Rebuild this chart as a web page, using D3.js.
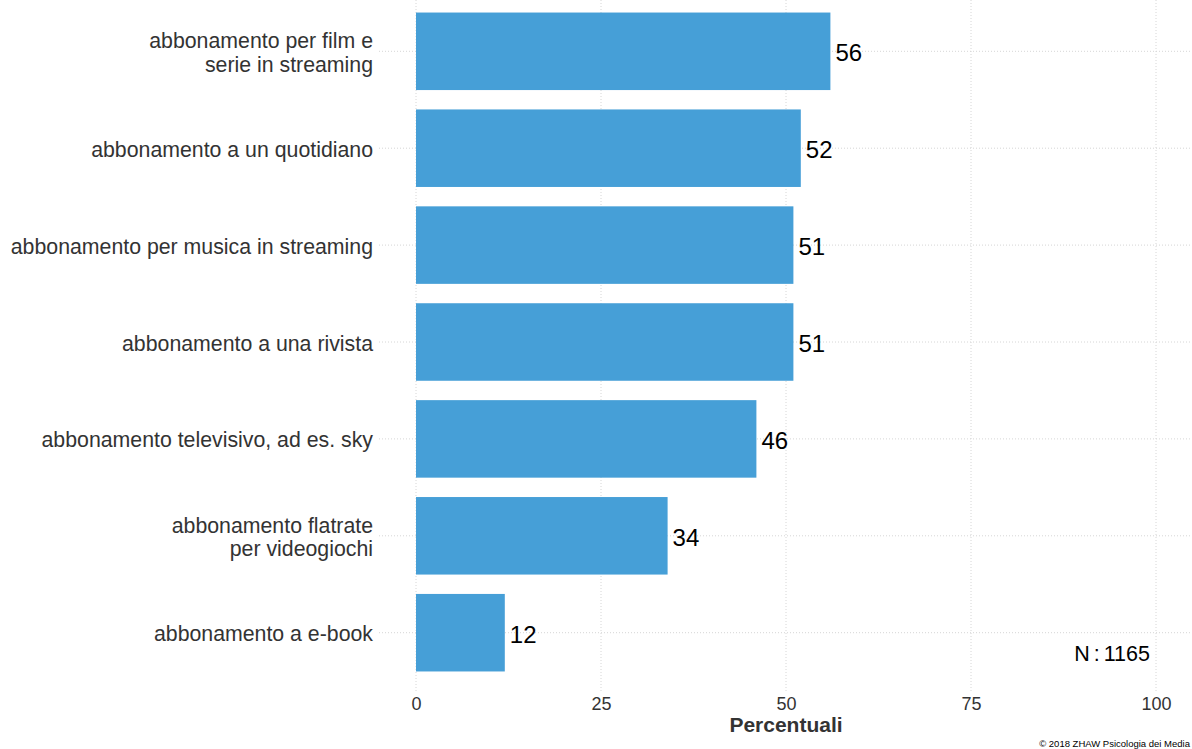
<!DOCTYPE html>
<html>
<head>
<meta charset="utf-8">
<script src="https://cdn.jsdelivr.net/npm/d3@7"></script>
<style>
  html, body { margin: 0; padding: 0; background: #fff; }
  svg { display: block; font-family: "Liberation Sans", Arial, sans-serif; }
</style>
</head>
<body>
<svg id="chart" width="1192" height="749"></svg>
<script>
// Subscriptions and the share of respondents (%) who use them
const categories = [
  "abbonamento per film e\nserie in streaming",
  "abbonamento a un quotidiano",
  "abbonamento per musica in streaming",
  "abbonamento a una rivista",
  "abbonamento televisivo, ad es. sky",
  "abbonamento flatrate\nper videogiochi",
  "abbonamento a e-book"
];
const values = [56, 52, 51, 51, 46, 34, 12];
const xTicks = [0, 25, 50, 75, 100];
const xTitle = "Percentuali";
const sampleNote = "N : 1165";
const credit = "© 2018 ZHAW Psicologia dei Media";

const svg = d3.select("#chart");

// Panel: x spans -5..105 (5% padding around 0..100)
const panel = { left: 379, right: 1193, top: 0, bottom: 691 };
const x = d3.scaleLinear().domain([-5, 105]).range([panel.left, panel.right]);

const y = d3.scaleBand()
  .domain(categories)
  .range([2.85, 681.15])
  .paddingInner(0.2)
  .paddingOuter(0.1);

const gridColor = "#d6d6d6";

// Vertical grid lines
svg.append("g").selectAll("line")
  .data(xTicks)
  .join("line")
  .attr("x1", d => x(d)).attr("x2", d => x(d))
  .attr("y1", panel.top).attr("y2", panel.bottom)
  .attr("stroke", gridColor)
  .attr("stroke-width", 1)
  .attr("stroke-dasharray", "1,2");

// Horizontal grid lines at each category
svg.append("g").selectAll("line")
  .data(categories)
  .join("line")
  .attr("x1", panel.left).attr("x2", panel.right)
  .attr("y1", d => y(d) + y.bandwidth() / 2)
  .attr("y2", d => y(d) + y.bandwidth() / 2)
  .attr("stroke", gridColor)
  .attr("stroke-width", 1)
  .attr("stroke-dasharray", "1,2");

// Bars
svg.append("g").selectAll("rect")
  .data(categories)
  .join("rect")
  .attr("x", x(0))
  .attr("y", d => y(d))
  .attr("width", (d, i) => x(values[i]) - x(0))
  .attr("height", y.bandwidth())
  .attr("fill", "#469fd7");

// Value labels
const valSize = 24;
svg.append("g").selectAll("text")
  .data(categories)
  .join("text")
  .attr("x", (d, i) => x(values[i]) + 5)
  .attr("y", d => y(d) + y.bandwidth() / 2 + 10)
  .attr("font-size", valSize)
  .attr("fill", "#000")
  .text((d, i) => values[i]);

// Category labels (right-aligned, multi-line)
const catSize = 21.3;
const lineH = 23.6;
const catG = svg.append("g");
categories.forEach(c => {
  const lines = c.split("\n");
  const cy = y(c) + y.bandwidth() / 2;
  lines.forEach((ln, k) => {
    catG.append("text")
      .attr("x", 373)
      .attr("y", cy + 8.5 + (k - (lines.length - 1) / 2) * lineH)
      .attr("text-anchor", "end")
      .attr("font-size", catSize)
      .attr("fill", "#333")
      .text(ln);
  });
});

// X axis tick labels
const xAxis = d3.axisBottom(x).tickValues(xTicks).tickSize(0).tickPadding(0);
const axG = svg.append("g")
  .attr("transform", `translate(0, 710)`)
  .call(xAxis);
axG.select(".domain").remove();
axG.selectAll("text")
  .attr("font-size", 18)
  .attr("font-family", "\"Liberation Sans\", Arial, sans-serif")
  .attr("fill", "#333")
  .attr("y", 0)
  .attr("dy", 0);

// Axis title
svg.append("text")
  .attr("x", (panel.left + panel.right) / 2)
  .attr("y", 731.5)
  .attr("text-anchor", "middle")
  .attr("font-size", 21)
  .attr("font-weight", "bold")
  .attr("fill", "#333")
  .text(xTitle);

// Sample size note
svg.append("text")
  .attr("x", 1150)
  .attr("y", 661)
  .attr("text-anchor", "end")
  .attr("font-size", 21.5)
  .attr("fill", "#000")
  .attr("word-spacing", -2)
  .text(sampleNote);

// Credit line
svg.append("text")
  .attr("x", 1190)
  .attr("y", 747)
  .attr("text-anchor", "end")
  .attr("font-size", 9.5)
  .attr("fill", "#000")
  .text(credit);
</script>
</body>
</html>
